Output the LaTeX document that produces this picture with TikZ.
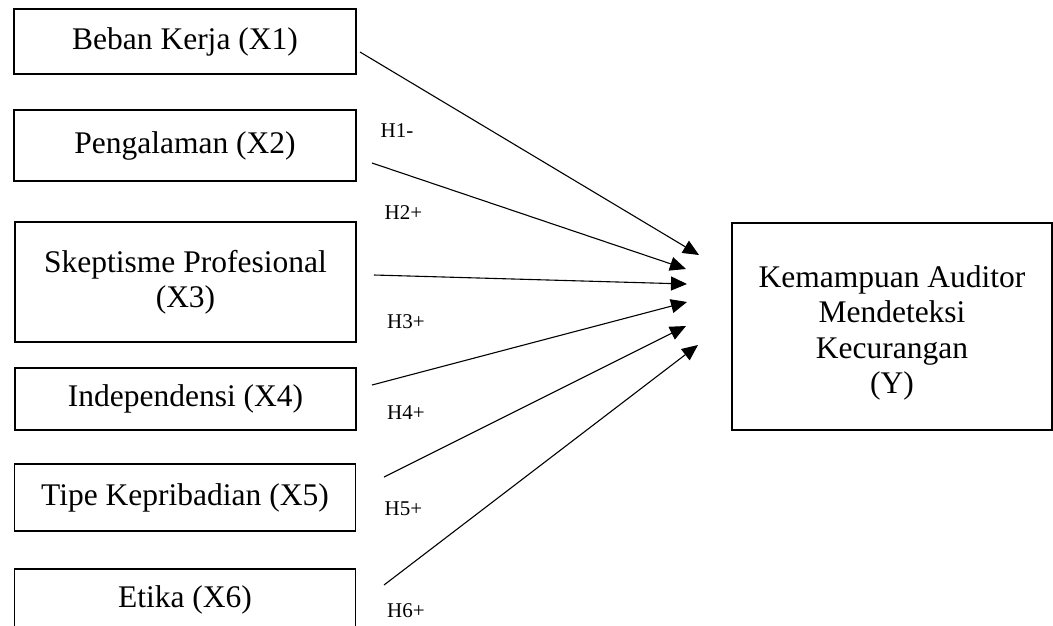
\documentclass[tikz,border=0pt]{standalone}
\usepackage{fontspec}
\setmainfont{Liberation Serif}
\usetikzlibrary{arrows.meta}
\begin{document}
\begin{tikzpicture}[x=1pt,y=-1pt,
  box/.style={draw,line width=1.1pt,rectangle,inner sep=0pt,align=center,
    font=\fontsize{31.5}{35}\selectfont},
  boxtext/.style={inner sep=0pt,align=center,font=\fontsize{31.5}{35.5}\selectfont},
  hlabel/.style={font=\fontsize{21}{24}\selectfont,inner sep=0pt},
  link/.style={line width=1.1pt,-{Triangle[length=16pt,width=14pt]}}]
\useasboundingbox (0,0) rectangle (1053,625);
% source boxes
\node[box,minimum width=342pt,minimum height=65pt] (x1) at (185,41.5) {Beban Kerja (X1)};
\node[box,minimum width=342pt,minimum height=71pt] (x2) at (185,145.5) {Pengalaman (X2)};
\node[box,minimum width=341pt,minimum height=120pt] (x3) at (185.5,282) {Skeptisme Profesional\\(X3)};
\node[box,minimum width=341pt,minimum height=62pt] (x4) at (185.5,399) {Independensi (X4)};
\node[box,minimum width=341pt,minimum height=67pt] (x5) at (185,497.5) {Tipe Kepribadian (X5)};
\node[box,minimum width=341pt,minimum height=70pt] (x6) at (185,604) {};
\node[boxtext] (x6t) at (185,600) {Etika (X6)};
% target box
\node[box,minimum width=320pt,minimum height=207pt] (y) at (892,326.5) {};
\node[boxtext] (yt) at (892,333) {Kemampuan Auditor\\Mendeteksi\\Kecurangan\\(Y)};
% connector ends
\coordinate (s1) at (360,52);
\coordinate (s2) at (372,163);
\coordinate (s3) at (374,275);
\coordinate (s4) at (372,385);
\coordinate (s5) at (384,477);
\coordinate (s6) at (384,585);
\coordinate (e1) at (699,255);
\coordinate (e2) at (686,269);
\coordinate (e3) at (687,284);
\coordinate (e4) at (687,302);
\coordinate (e5) at (686,326);
\coordinate (e6) at (698,345);
\draw[link] (s1) -- (e1);
\draw[link] (s2) -- (e2);
\draw[link] (s3) -- (e3);
\draw[link] (s4) -- (e4);
\draw[link] (s5) -- (e5);
\draw[link] (s6) -- (e6);
% labels
\node[hlabel] (h1) at (397,131) {H1-};
\node[hlabel] (h2) at (403.5,213) {H2+};
\node[hlabel] (h3) at (406,322) {H3+};
\node[hlabel] (h4) at (406,413) {H4+};
\node[hlabel] (h5) at (403.5,509) {H5+};
\node[hlabel] (h6) at (406,611) {H6+};
\end{tikzpicture}
\end{document}
